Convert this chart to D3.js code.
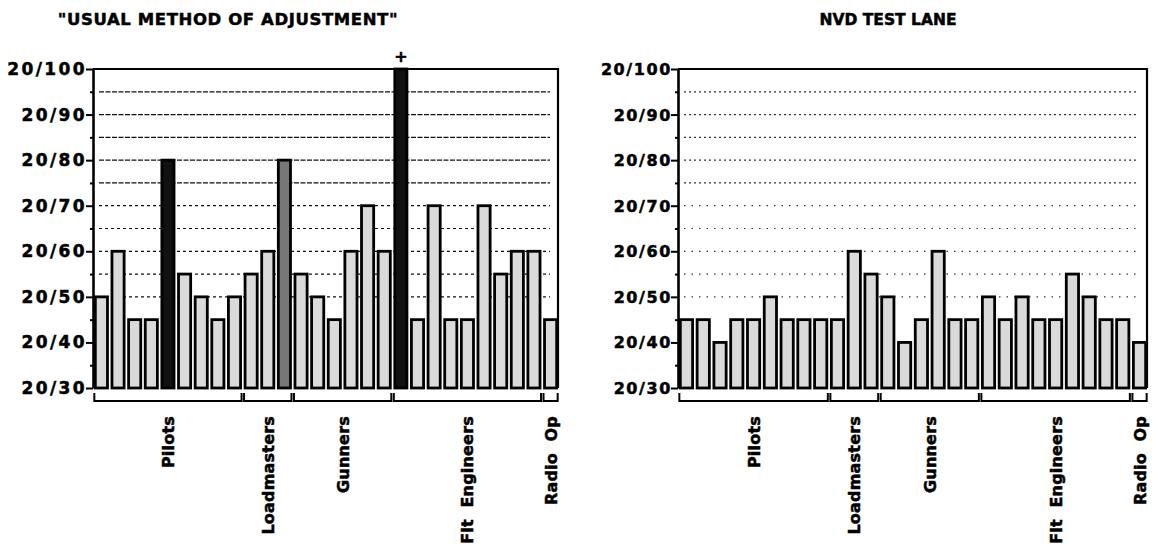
<!DOCTYPE html>
<html>
<head>
<meta charset="utf-8">
<script src="https://cdn.jsdelivr.net/npm/d3@7"></script>
<style>
  body { margin: 0; background: #fff; }
  text { font-family: "DejaVu Sans", sans-serif; font-weight: bold; fill: #000; stroke: #000; stroke-width: 0.5px; }
</style>
</head>
<body>
<div id="chart-area"></div>
<script>
// SVG Size
let width = 1154,
	height = 552;

// crew groups, and how many people in each (bars in order)
const groups = ["Pilots", "Loadmasters", "Gunners", "Flt  Engineers", "Radio  Op"];
const groupSizes = [9, 3, 6, 9, 1];

// acuity denominators (20/xx)
const usualMethod = [50, 60, 45, 45, 80, 55, 50, 45, 50,
	55, 60, 80,
	55, 50, 45, 60, 70, 60,
	100, 45, 70, 45, 45, 70, 55, 60, 60,
	45];
const nvdTestLane = [45, 45, 40, 45, 45, 50, 45, 45, 45,
	45, 60, 55,
	50, 40, 45, 60, 45, 45,
	50, 45, 50, 45, 45, 55, 50, 45, 45,
	40];

const yTicks = [30, 40, 50, 60, 70, 80, 90, 100];
const gridVals = [50, 55, 60, 65, 70, 75, 80, 85, 90, 95];

let svg = d3.select("#chart-area").append("svg").attr("width", width).attr("height", height);

let yScale = d3.scaleLinear().domain([30, 100]).range([388, 69]);

function drawPanel(opts) {
	let g = svg.append("g");
	let data = opts.values;

	let xScale = d3.scaleBand()
		.domain(d3.range(data.length))
		.range([opts.left + 1, opts.right])
		.paddingInner(0.27)
		.paddingOuter(0.08);

	// dotted reference lines
	g.selectAll(".grid")
		.data(gridVals)
		.enter()
		.append("line")
		.attr("x1", opts.left + 6)
		.attr("x2", opts.right - 8)
		.attr("y1", d => yScale(d))
		.attr("y2", d => yScale(d))
		.attr("stroke", opts.gridColor)
		.attr("stroke-width", 1.2)
		.attr("stroke-dasharray", d => d >= 75 ? opts.dashHi : opts.dashLo);

	// frame: top + right
	g.append("path")
		.attr("d", "M" + opts.left + "," + yScale(100) + "H" + opts.right + "V" + yScale(30))
		.attr("fill", "none")
		.attr("stroke", "#000")
		.attr("stroke-width", 2.2);

	// bars
	g.selectAll(".bar")
		.data(data)
		.enter()
		.append("rect")
		.attr("x", (d, i) => xScale(i))
		.attr("y", d => yScale(d))
		.attr("width", xScale.bandwidth())
		.attr("height", d => yScale(30) - yScale(d))
		.attr("fill", (d, i) => opts.dark.includes(i) ? "#111" : (opts.mid.includes(i) ? "#777" : "#dadada"))
		.attr("stroke", "#000")
		.attr("stroke-width", 2.8);

	// y axis
	let yAxis = d3.axisLeft(yScale)
		.tickValues(d3.range(30, 101, 5))
		.tickSize(0)
		.tickFormat("");
	let ax = g.append("g")
		.attr("transform", "translate(" + opts.left + ",0)")
		.call(yAxis);
	ax.select(".domain").attr("stroke", "#000").attr("stroke-width", 2.6);
	ax.selectAll(".tick line")
		.attr("x2", d => d % 10 === 0 ? -7 : -3)
		.attr("stroke", "#000")
		.attr("stroke-width", 2);

	g.selectAll(".ylab")
		.data(yTicks)
		.enter()
		.append("text")
		.attr("x", opts.left - 6)
		.attr("y", d => yScale(d) + 6)
		.attr("text-anchor", "end")
		.style("font-size", opts.tickFont)
		.style("letter-spacing", opts.tickSpacing)
		.text(d => "20/" + d);

	// group brackets + labels
	let start = 0;
	groups.forEach((name, k) => {
		let n = groupSizes[k];
		let x0 = xScale(start) - 1;
		let x1 = xScale(start + n - 1) + xScale.bandwidth() + 1;
		g.append("path")
			.attr("d", "M" + x0 + ",393V401H" + x1 + "V393")
			.attr("fill", "none")
			.attr("stroke", "#000")
			.attr("stroke-width", 2);
		let cx = (x0 + x1) / 2 + 6;
		g.append("text")
			.attr("transform", "translate(" + cx + ",416) rotate(-90)")
			.attr("text-anchor", "end")
			.style("font-size", "16px")
			.style("letter-spacing", "0.2px")
			.style("white-space", "pre")
			.text(name);
		start += n;
	});

	// title
	svg.append("text")
		.attr("x", opts.titleX)
		.attr("y", 25)
		.attr("text-anchor", "middle")
		.style("font-size", opts.titleFont)
		.style("letter-spacing", opts.titleSpacing)
		.text(opts.title);

	return xScale;
}

let xLeft = drawPanel({
	values: usualMethod, left: 93, right: 558, title: "\"USUAL METHOD OF ADJUSTMENT\"", titleX: 228,
	titleFont: "16.5px", titleSpacing: "0.6px", tickFont: "17px", tickSpacing: "2.4px",
	dark: [4, 18], mid: [11], gridColor: "#111", dashHi: "5,1.5", dashLo: "3,3"
});

// plus sign above the off-scale bar
let topIdx = usualMethod.indexOf(d3.max(usualMethod));
svg.append("text")
	.attr("x", xLeft(topIdx) + xLeft.bandwidth() / 2)
	.attr("y", yScale(100) - 7)
	.attr("text-anchor", "middle")
	.style("font-size", "16px")
	.text("+");

drawPanel({
	values: nvdTestLane, left: 678, right: 1147, title: "NVD TEST LANE", titleX: 888,
	titleFont: "15.5px", titleSpacing: "0px", tickFont: "16px", tickSpacing: "1.6px",
	dark: [], mid: [], gridColor: "#333", dashHi: "2,3", dashLo: "1.5,6"
});
</script>
</body>
</html>
